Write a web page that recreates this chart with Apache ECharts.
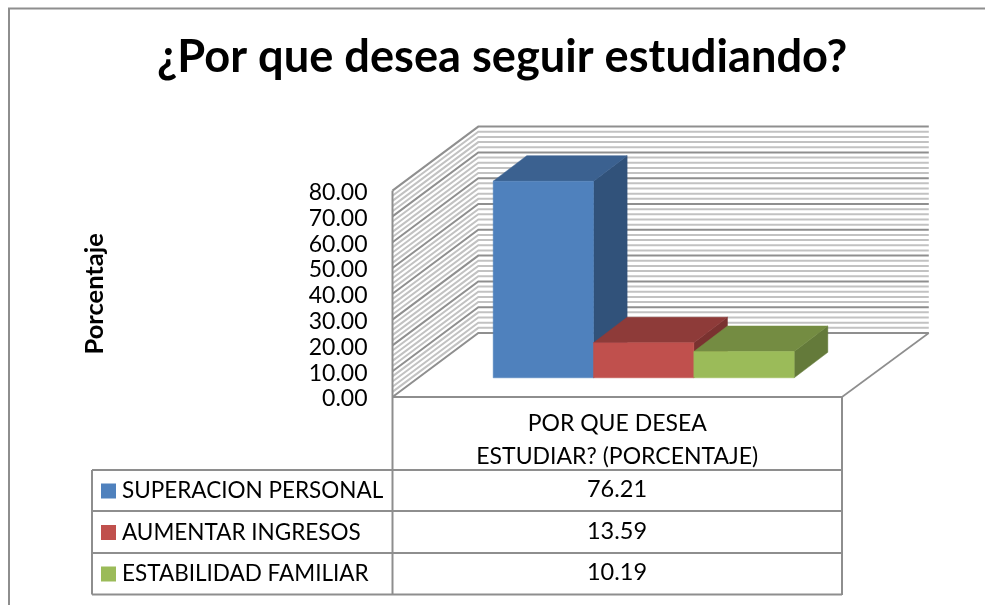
<!DOCTYPE html>
<html><head><meta charset="utf-8">
<style>html,body{margin:0;padding:0;background:#fff}#c{width:985px;height:605px}</style>
<script src="https://cdn.jsdelivr.net/npm/echarts@6/dist/echarts.min.js"></script>
</head><body><div id="c"></div>
<script>
const titleText = '¿Por que desea seguir estudiando?';
const yAxisName = 'Porcentaje';
const categories = ['POR QUE DESEA\nESTUDIAR? (PORCENTAJE)'];
const seriesNames = ['SUPERACION PERSONAL', 'AUMENTAR INGRESOS', 'ESTABILIDAD FAMILIAR'];
const seriesValues = [76.21, 13.59, 10.19];
const frontColors = ['#4F81BD', '#C0504D', '#9BBB59'];
const topColors = ['#3B6190', '#8E3B39', '#748C42'];
const sideColors = ['#31527A', '#7A3230', '#647A3A'];
const gridLineValues = [0,2,4,6,8,10,12,14,16,18,20,22,24,26,28,30,32,34,36,38,40,42,44,46,48,50,52,54,56,58,60,62,64,66,68,70,72,74,76,78,80];

const FONT = 'Lato';
const LINE = '#8e8e8e';
const DEPTH = [85.8, -64];      // wall depth projected on screen
const BAR_DEPTH = [33.6, -25.5]; // bar depth projected on screen
const BAR_START = 0.3;           // share of the floor depth before the bars
const BAR_SHARE = 0.2232;        // share of the band for one bar

function poly(points, fill) {
  return { type: 'polygon', shape: { points }, style: { fill, stroke: fill, lineWidth: 0.5 } };
}

function wallItem(params, api) {
  const v = api.value(1);
  const c = api.coord([0, v]);
  const band = api.size([1, 0])[0];
  const x0 = c[0] - band / 2, x1 = c[0] + band / 2;
  const major = v % 10 === 0;
  const stroke = major ? '#8f8f8f' : '#c2c2c2';
  const children = [];
  const bx = x0 + DEPTH[0], by = c[1] + DEPTH[1];
  children.push({
    type: 'polyline',
    shape: { points: [[x0, c[1]], [bx, by], [x1 + DEPTH[0] + 1, by]] },
    style: { stroke, lineWidth: 2, fill: null }
  });
  if (v === 0) {
    children.push({ type: 'line', shape: { x1: x1, y1: c[1], x2: x1 + DEPTH[0] + 1, y2: by },
      style: { stroke: LINE, lineWidth: 1.6 } });
  }
  if (v === 80) {
    const b = api.coord([0, 0]);
    children.push({ type: 'line', shape: { x1: x0, y1: c[1], x2: x0, y2: b[1] },
      style: { stroke: LINE, lineWidth: 2 } });
  }
  return { type: 'group', children };
}

function barItem(index) {
  return function (params, api) {
    const top = api.coord([0, api.value(1)]);
    const base = api.coord([0, 0]);
    const band = api.size([1, 0])[0];
    const w = band * BAR_SHARE;
    const ox = DEPTH[0] * BAR_START + 0.7, oy = DEPTH[1] * BAR_START;
    const l = top[0] - w * 1.5 + w * index + ox, r = l + w;
    const t = top[1] + oy, b = base[1] + oy;
    const dx = BAR_DEPTH[0], dy = BAR_DEPTH[1];
    return { type: 'group', children: [
      poly([[r, t], [r + dx, t + dy], [r + dx, b + dy], [r, b]], sideColors[index]),
      poly([[l, t], [l + dx, t + dy], [r + dx, t + dy], [r, t]], topColors[index]),
      poly([[l, t], [r, t], [r, b], [l, b]], frontColors[index])
    ] };
  };
}

const wallSeries = {
  type: 'custom', name: 'walls', silent: true, z: 1,
  renderItem: wallItem,
  encode: { x: 0, y: 1 },
  data: gridLineValues.map(v => [0, v])
};

const barSeries = seriesNames.map((name, i) => ({
  type: 'custom', name, z: 2 + i,
  renderItem: barItem(i),
  encode: { x: 0, y: 1 },
  itemStyle: { color: frontColors[i] },
  data: [[0, seriesValues[i]]]
}));

const tableLines = [
  [[9, 605], [9, 8.5], [985, 8.5]],
  [[392.5, 397], [842, 397]],
  [[392.5, 397], [392.5, 595]],
  [[842, 397], [842, 595]],
  [[92, 470], [842, 470]],
  [[92, 511], [842, 511]],
  [[92, 553], [842, 553]],
  [[92, 594.5], [842, 594.5]],
  [[92, 470], [92, 594.5]]
];
const rowCenters = [489.5, 531.5, 572.5];

const graphic = tableLines.map(points => ({
  type: 'polyline', shape: { points }, z: 20,
  style: { stroke: LINE, lineWidth: 2, fill: null }
})).concat(seriesValues.map((v, i) => ({
  type: 'text', x: 617, y: rowCenters[i], z: 20,
  style: { text: v.toFixed(2), font: '23.5px ' + FONT, fill: '#000', align: 'center', verticalAlign: 'middle' }
})));

const chart = echarts.init(document.getElementById('c'), null, { renderer: 'canvas' });
chart.setOption({
  animation: false,
  backgroundColor: '#fff',
  title: {
    text: titleText, left: 157, top: 35, padding: 0,
    textStyle: { fontFamily: FONT, fontSize: 45.2, fontWeight: 'bold', color: '#000' }
  },
  legend: {
    orient: 'vertical', left: 101, top: 479.5, padding: 0, itemGap: 18.5,
    itemWidth: 15, itemHeight: 15, icon: 'rect', selectedMode: false,
    data: seriesNames,
    textStyle: { fontFamily: FONT, fontSize: 22.5, color: '#000', lineHeight: 15, padding: [0, 0, 0, 1] }
  },
  grid: { left: 392.5, width: 449.5, top: 190.6, height: 206.4 },
  xAxis: {
    type: 'category', data: categories,
    axisLine: { show: false }, axisTick: { show: false }, splitLine: { show: false },
    axisLabel: { fontFamily: FONT, fontSize: 23, color: '#000', lineHeight: 33, margin: 10 }
  },
  yAxis: {
    type: 'value', min: 0, max: 80, interval: 10,
    name: yAxisName, nameLocation: 'middle', nameRotate: 90, nameGap: 285,
    nameTextStyle: { fontFamily: FONT, fontSize: 25.5, fontWeight: 'bold', color: '#000' },
    axisLine: { show: false }, axisTick: { show: false }, splitLine: { show: false },
    axisLabel: { fontFamily: FONT, fontSize: 23, color: '#000', margin: 25, verticalAlign: 'top', lineHeight: 4, formatter: v => v.toFixed(2) }
  },
  graphic,
  series: [wallSeries].concat(barSeries)
});
</script></body></html>
